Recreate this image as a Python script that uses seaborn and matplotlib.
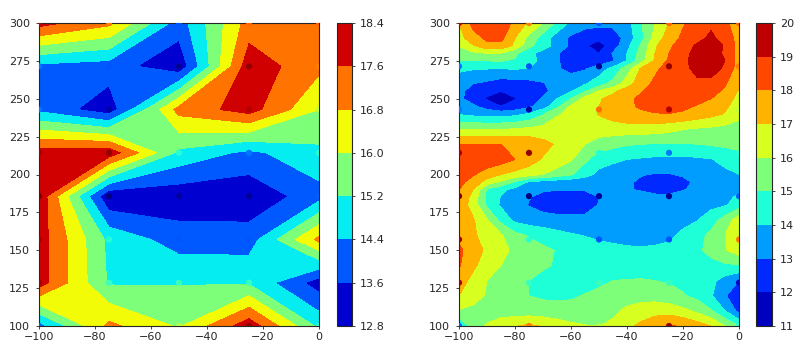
import numpy as np
import pandas as pd
import matplotlib
matplotlib.use("Agg")
import matplotlib.pyplot as plt
import seaborn as sns

# measured points, one row per y value
x_raw = [-100, -75, -50, -25, 0]
y_raw = [100, 128.6, 157.1, 185.7, 214.3, 242.9, 271.4, 300]
z_raw = [
    [14.1, 17.0, 15.9, 18.1, 15.0],
    [18.0, 15.1, 15.15, 15.1, 13.2],
    [18.0, 15.0, 14.0, 14.0, 17.0],
    [18.2, 12.9, 13.05, 13.0, 14.07],
    [18.0, 18.1, 15.0, 14.2, 15.0],
    [14.2, 13.1, 17.1, 17.95, 16.0],
    [14.2, 14.0, 13.0, 18.1, 17.0],
    [17.9, 17.0, 14.0, 17.15, 17.2],
]
levels_raw = [12.8, 13.6, 14.4, 15.2, 16.0, 16.8, 17.6, 18.4]

# smooth surface of the right panel
x_fine = [-100, -95, -90, -85, -80, -75, -70, -65, -60, -55, -50, -45, -40, -35, -30, -25, -20, -15, -10, -5, 0]
y_fine = [100, 110, 120, 130, 140, 150, 160, 170, 180, 185, 190, 195, 200, 210, 220, 230, 240, 245, 250, 255, 260, 270, 275, 280, 285, 290, 300]
z_fine = [
    [14.0, 15.5, 16.1, 16.6, 16.95, 17.2, 16.9, 16.5, 16.2, 16.05, 15.98, 16.2, 16.8, 17.2, 17.65, 18.05, 17.95, 17.5, 17.0, 16.0, 15.0],
    [15.9, 15.75, 15.6, 15.5, 15.45, 15.4, 15.4, 15.4, 15.4, 15.45, 15.55, 15.8, 16.2, 16.5, 16.65, 16.6, 16.25, 15.8, 15.1, 14.0, 12.7],
    [17.0, 16.4, 15.9, 15.7, 15.4, 15.0, 14.85, 14.8, 14.85, 15.05, 15.25, 15.4, 15.55, 15.6, 15.55, 15.35, 15.1, 14.7, 14.1, 13.1, 12.2],
    [17.5, 16.7, 16.0, 15.7, 15.4, 15.0, 14.7, 14.55, 14.55, 14.65, 14.8, 15.0, 15.05, 15.1, 15.0, 14.9, 14.7, 14.5, 14.25, 13.6, 13.0],
    [18.1, 17.2, 16.5, 16.0, 15.75, 15.45, 15.15, 14.9, 14.65, 14.5, 14.4, 14.35, 14.3, 14.3, 14.3, 14.35, 14.4, 14.55, 14.7, 14.85, 14.95],
    [18.2, 17.5, 16.8, 16.2, 15.85, 15.55, 15.2, 14.95, 14.7, 14.5, 14.35, 14.25, 14.15, 14.1, 14.15, 14.25, 14.5, 14.8, 15.3, 15.95, 16.5],
    [17.7, 17.15, 16.6, 16.1, 15.3, 14.9, 14.6, 14.3, 14.1, 13.95, 13.8, 13.7, 13.65, 13.65, 13.7, 13.8, 14.2, 14.7, 15.2, 16.0, 16.9],
    [17.5, 17.1, 16.1, 14.7, 13.75, 13.5, 13.4, 13.35, 13.3, 13.3, 13.45, 13.5, 13.55, 13.55, 13.55, 13.55, 13.7, 13.95, 14.6, 15.4, 16.6],
    [17.6, 16.6, 14.8, 13.85, 13.5, 12.95, 12.6, 12.4, 12.4, 12.5, 13.05, 13.3, 13.5, 13.55, 13.55, 13.5, 13.55, 13.6, 13.7, 13.9, 14.4],
    [17.8, 16.7, 14.7, 13.95, 13.45, 13.05, 12.75, 12.45, 12.35, 12.45, 13.0, 13.3, 13.5, 13.45, 13.3, 13.25, 13.4, 13.6, 13.7, 13.85, 14.1],
    [18.0, 17.0, 14.9, 14.2, 13.7, 13.2, 13.1, 13.05, 13.05, 13.1, 13.2, 13.3, 13.1, 12.9, 12.6, 12.6, 12.95, 13.2, 13.5, 13.7, 13.9],
    [18.3, 17.6, 16.6, 15.8, 14.9, 13.85, 13.6, 13.4, 13.3, 13.3, 13.4, 13.3, 13.15, 12.85, 12.6, 12.55, 12.8, 13.15, 13.45, 13.7, 13.95],
    [18.6, 18.1, 17.5, 17.0, 16.7, 16.4, 16.0, 15.6, 15.1, 14.4, 13.7, 13.5, 13.3, 13.05, 12.95, 12.95, 13.1, 13.3, 13.5, 13.75, 14.0],
    [18.8, 18.8, 18.7, 18.5, 18.0, 17.5, 16.9, 16.5, 16.1, 15.2, 14.5, 14.2, 14.0, 13.9, 13.8, 13.75, 13.75, 13.85, 13.95, 14.3, 14.6],
    [18.0, 18.0, 18.0, 18.0, 18.0, 17.8, 17.3, 16.9, 16.4, 16.0, 15.5, 15.3, 15.1, 15.0, 14.95, 14.93, 14.93, 15.0, 15.1, 15.2, 15.3],
    [15.9, 15.9, 15.9, 15.95, 16.05, 16.2, 16.35, 16.45, 16.5, 16.55, 16.6, 16.55, 16.55, 16.5, 16.5, 16.3, 16.05, 15.9, 15.8, 15.7, 15.7],
    [13.9, 13.7, 13.6, 13.55, 13.7, 14.1, 14.9, 15.9, 16.2, 16.6, 17.05, 17.4, 17.7, 17.85, 17.95, 17.98, 17.9, 17.6, 17.3, 16.95, 16.2],
    [13.5, 13.15, 12.6, 12.0, 12.3, 12.8, 13.5, 14.75, 16.15, 16.7, 17.0, 17.5, 17.85, 18.1, 18.3, 18.35, 18.15, 17.95, 17.65, 17.15, 16.6],
    [13.2, 12.6, 11.9, 11.5, 11.95, 12.5, 13.1, 14.0, 15.0, 16.4, 16.9, 17.3, 17.9, 18.1, 18.3, 18.4, 18.4, 18.2, 18.0, 17.3, 16.8],
    [13.2, 12.7, 12.3, 12.0, 12.25, 12.4, 12.8, 13.3, 13.9, 14.9, 16.1, 16.8, 17.5, 17.95, 18.3, 18.45, 18.6, 18.6, 18.4, 17.8, 16.9],
    [13.4, 13.0, 12.8, 12.5, 12.6, 12.7, 12.95, 13.3, 13.6, 13.9, 14.5, 15.3, 16.5, 17.6, 18.2, 18.5, 18.7, 18.85, 18.7, 18.1, 17.2],
    [14.2, 14.1, 14.05, 14.0, 14.1, 13.95, 13.5, 13.1, 12.7, 12.9, 13.5, 14.3, 15.5, 17.1, 17.8, 18.4, 18.8, 19.2, 19.5, 18.8, 17.5],
    [15.0, 15.0, 15.0, 15.05, 14.9, 14.4, 13.7, 13.1, 12.6, 12.3, 12.4, 12.9, 14.05, 15.6, 17.15, 18.15, 18.8, 19.35, 19.6, 19.0, 17.6],
    [15.4, 15.8, 16.0, 15.95, 15.2, 14.2, 13.7, 13.1, 12.5, 12.1, 12.0, 13.1, 14.0, 15.4, 17.0, 18.0, 18.7, 19.3, 19.6, 18.8, 17.6],
    [16.1, 16.9, 17.7, 17.7, 16.8, 15.3, 14.4, 13.7, 12.8, 12.1, 11.6, 12.5, 13.7, 15.15, 16.85, 17.8, 18.5, 19.15, 19.55, 18.9, 17.6],
    [16.6, 17.6, 18.2, 18.25, 17.0, 15.7, 14.5, 13.5, 12.8, 12.4, 12.2, 12.4, 13.4, 14.7, 16.4, 17.5, 18.2, 18.7, 19.2, 18.6, 17.6],
    [17.0, 18.3, 18.7, 18.5, 17.8, 16.8, 16.0, 14.8, 13.8, 13.4, 13.3, 13.3, 13.6, 14.9, 16.0, 17.0, 17.9, 18.5, 18.8, 18.4, 17.0],
]
levels_fine = [11, 12, 13, 14, 15, 16, 17, 18, 19, 20]

sns.set_style("ticks")
plt.rcParams["font.size"] = 8
plt.rcParams["font.family"] = ["DejaVu Sans"]

xx, yy = np.meshgrid(x_raw, y_raw)
points = pd.DataFrame({"x": xx.ravel(), "y": yy.ravel(), "z": np.array(z_raw).ravel()})

W, H = 800, 355
fig = plt.figure(figsize=(W / 100, H / 100), dpi=100)
jet = plt.get_cmap("jet")


def panel(left, cb_left, cb_w, xs, ys, zs, levels):
    ax = fig.add_axes([left / W, 1 - 326 / H, 280 / W, 303 / H])
    cax = fig.add_axes([cb_left / W, 1 - 326 / H, cb_w / W, 303 / H])
    cf = ax.contourf(xs, ys, zs, levels=levels, cmap=jet)
    sns.scatterplot(data=points, x="x", y="y", hue="z", palette=jet,
                    hue_norm=(points["z"].min(), points["z"].max()),
                    s=20, linewidth=0, legend=False, ax=ax, zorder=3)
    ax.set_xlim(-100, 0)
    ax.set_ylim(100, 300)
    ax.set_xlabel("")
    ax.set_ylabel("")
    ax.set_xticks([-100, -80, -60, -40, -20, 0])
    ax.set_yticks([100, 125, 150, 175, 200, 225, 250, 275, 300])
    ax.tick_params(axis="x", labelsize=8, length=2.5, width=0.6, pad=2)
    ax.tick_params(axis="y", labelsize=8, length=2.5, width=0.6, pad=4)
    cb = fig.colorbar(cf, cax=cax)
    cb.set_ticks(levels)
    cb.ax.tick_params(labelsize=8, length=2.5, width=0.6, pad=3)
    return ax


panel(39, 337, 15, x_raw, y_raw, z_raw, levels_raw)
panel(459, 756, 16, x_fine, y_fine, z_fine, levels_fine)

fig.savefig("out.png", dpi=100)
